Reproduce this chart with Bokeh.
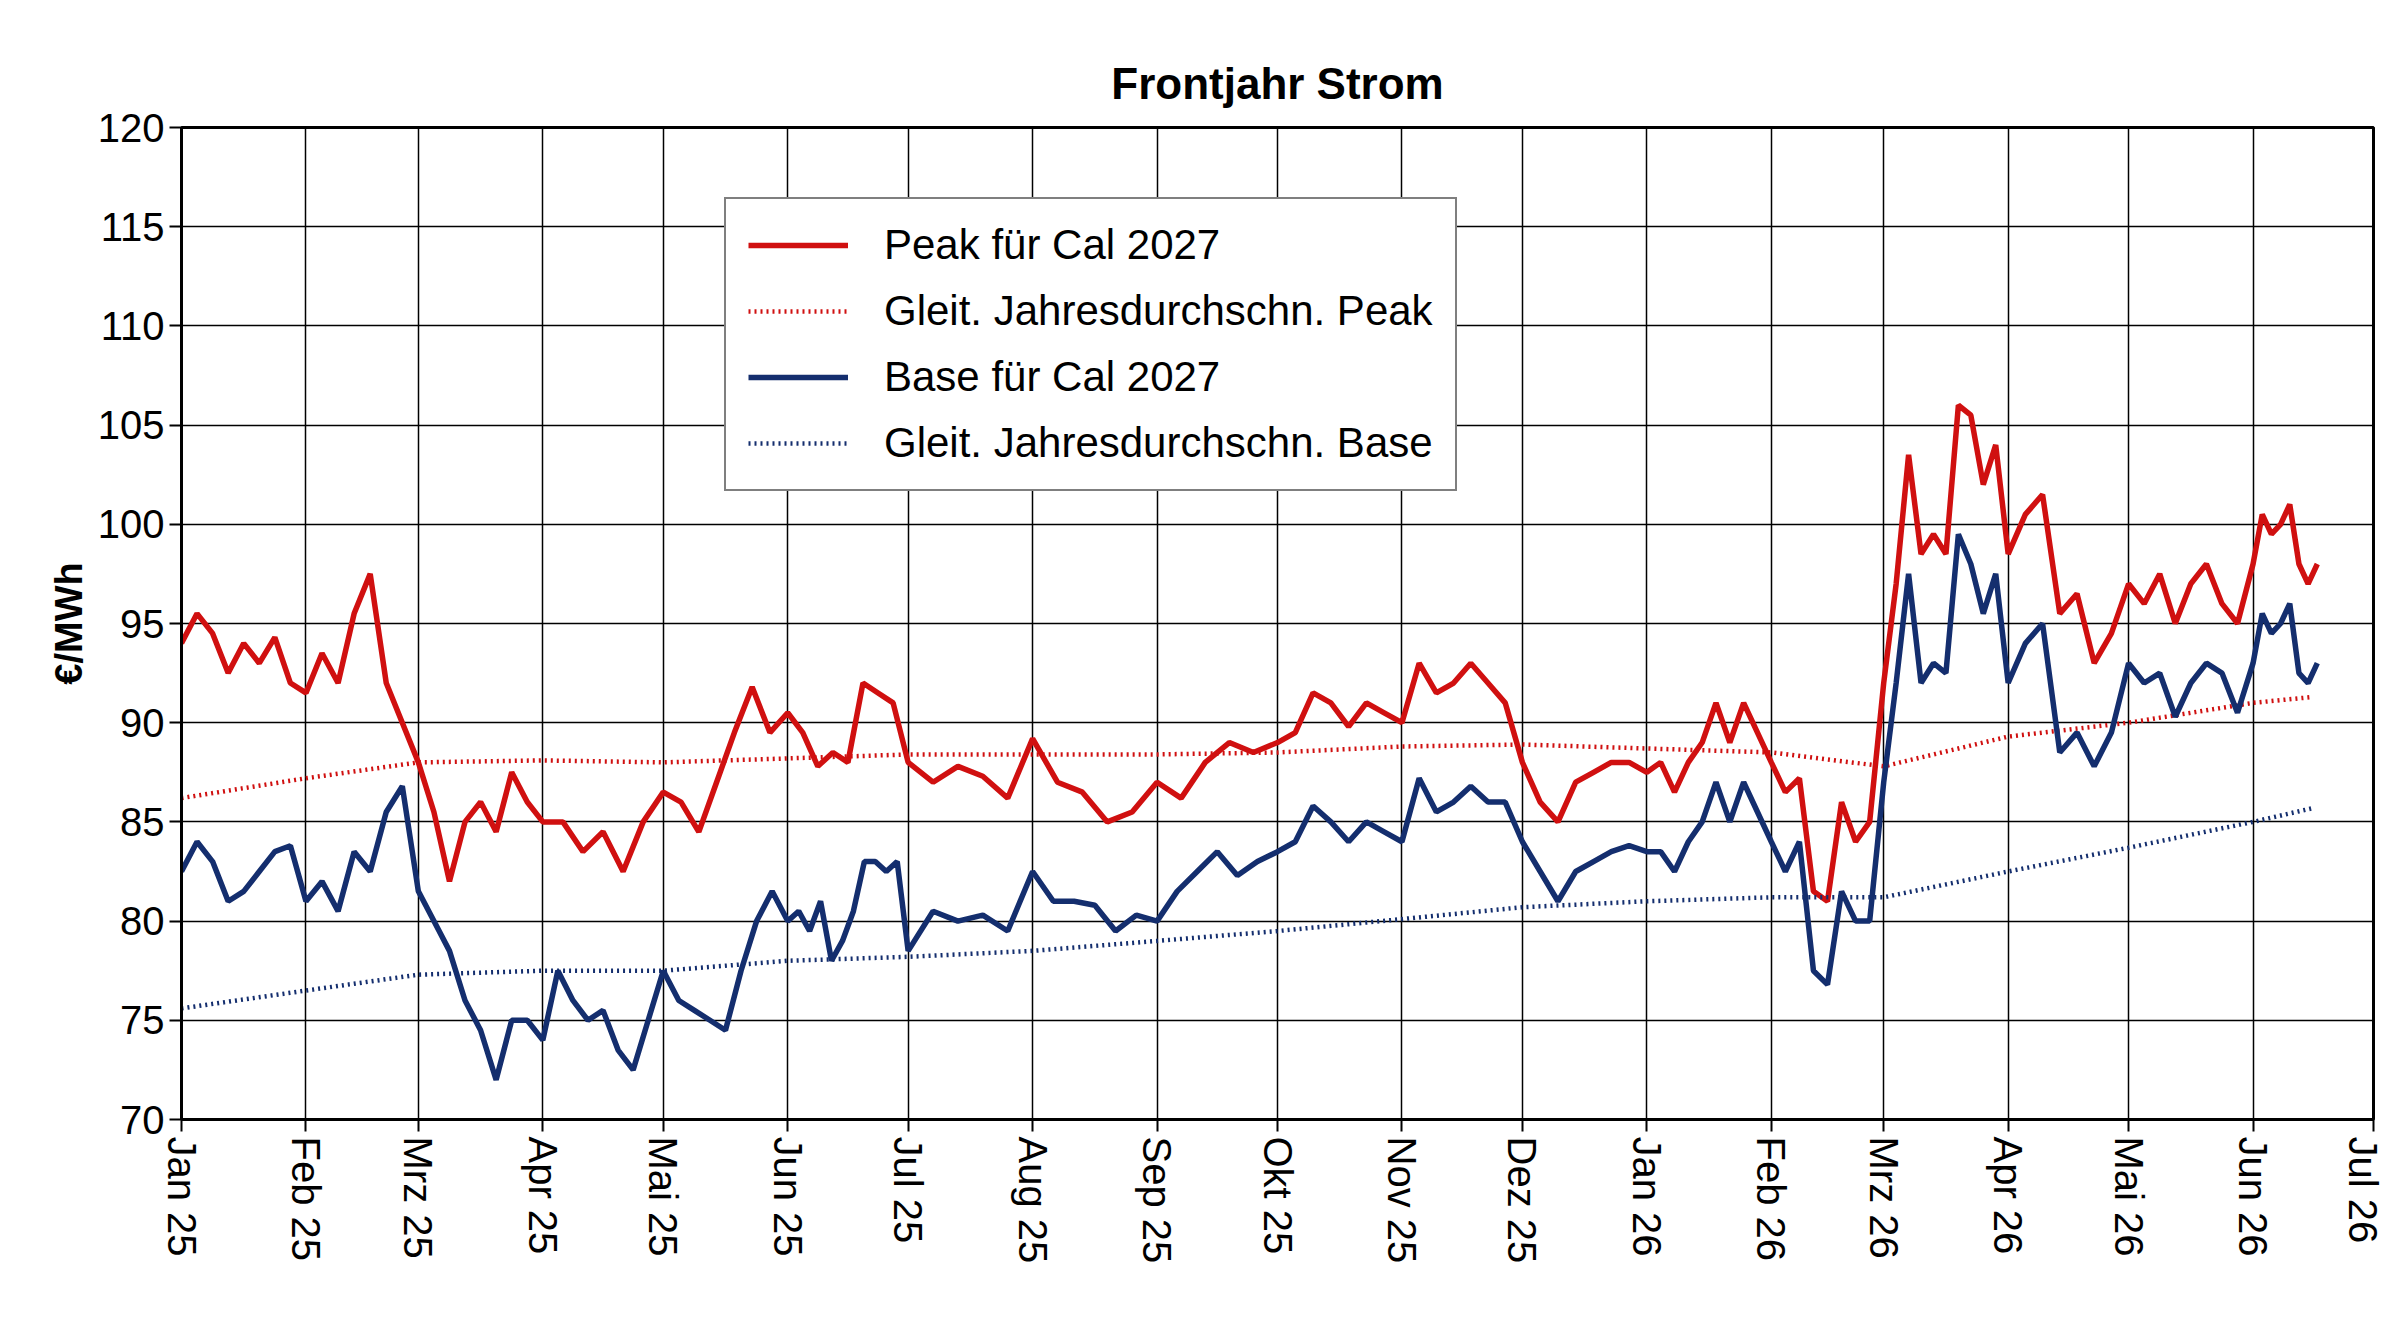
import pandas as pd
from bokeh.plotting import figure
from bokeh.models import FixedTicker, Legend, LegendItem, Range1d
from bokeh.embed import file_html
from bokeh.resources import INLINE

months = ["2025-01","2025-02","2025-03","2025-04","2025-05","2025-06","2025-07","2025-08","2025-09",
          "2025-10","2025-11","2025-12","2026-01","2026-02","2026-03","2026-04","2026-05","2026-06"]
tick_labels = ["Jan 25","Feb 25","Mrz 25","Apr 25","Mai 25","Jun 25","Jul 25","Aug 25","Sep 25","Okt 25",
               "Nov 25","Dez 25","Jan 26","Feb 26","Mrz 26","Apr 26","Mai 26","Jun 26","Jul 26"]

peak = [
 [94,95.5,94.5,92.5,94,93,94.3,92],
 [91.5,93.5,92,95.5,97.5,92,90],
 [88,85.5,82,85,86,84.5,87.5,86],
 [85,85,83.5,84.5,82.5,85],
 [86.5,86,84.5,87,89.5,91.8,89.5],
 [90.5,89.5,87.8,88.5,88,92,91.5,91],
 [88,87,87.8,87.3,86.2],
 [89.2,87,86.5,85,85.5],
 [87,86.2,88,89,88.5],
 [89,89.5,91.5,91,89.8,91,90.5],
 [90,93,91.5,92,93,92,91],
 [88,86,85,87,87.5,88,88],
 [87.5,88,86.5,88,89,91,89,91,89.5],
 [88,86.5,87.2,81.5,81,86,84,85],
 [92,97,103.5,98.5,99.5,98.5,106,105.5,102,104],
 [98.5,100.5,101.5,95.5,96.5,93,94.5],
 [97,96,97.5,95,97,98,96,95],
 [98,100.5,99.5,100,101,98,97,98],
]
base = [
 [82.5,84,83,81,81.5,82.5,83.5,83.8],
 [81,82,80.5,83.5,82.5,85.5,86.8],
 [81.5,80,78.5,76,74.5,72,75,75],
 [74,77.5,76,75,75.5,73.5,72.5,75],
 [77.5,76,75.5,75,74.5,77.5,80,81.5],
 [80,80.5,79.5,81,78,79,80.5,83,83,82.5,83],
 [78.5,80.5,80,80.3,79.5],
 [82.5,81,81,80.8,79.5,80.3],
 [80,81.5,82.5,83.5,82.3,83],
 [83.5,84,85.8,85,84,85,84.5],
 [84,87.2,85.5,86,86.8,86,86],
 [84,82.5,81,82.5,83,83.5,83.8],
 [83.5,83.5,82.5,84,85,87,85,87,85.5],
 [84,82.5,84,77.5,76.8,81.5,80,80],
 [87,92,97.5,92,93,92.5,99.5,98,95.5,97.5],
 [92,94,95,88.5,89.5,87.8,89.5],
 [93,92,92.5,90.3,92,93,92.5,90.5],
 [93,95.5,94.5,95,96,92.5,92,93],
]
peak_avg = [86.2,87.2,88.0,88.1,88.0,88.2,88.4,88.4,88.4,88.5,88.8,88.9,88.7,88.5,87.8,89.3,90.0,91.0,91.3]
base_avg = [75.6,76.5,77.3,77.5,77.5,78.0,78.2,78.5,79.0,79.5,80.1,80.7,81.0,81.2,81.2,82.5,83.7,85.0,85.7]

def spread(month_lists, last_days=16):
    xs, ys = [], []
    for i, (m, vals) in enumerate(zip(months, month_lists)):
        start = pd.Timestamp(m + "-01")
        last = i == len(months) - 1
        ndays = last_days if last else start.days_in_month
        div = (len(vals) - 1) if last else len(vals)
        for j, v in enumerate(vals):
            xs.append(start + pd.Timedelta(days=ndays * j / max(div, 1)))
            ys.append(v)
    return xs, ys

px, py = spread(peak)
bx, by = spread(base)
avg_x = [pd.Timestamp(m + "-01") for m in months] + [pd.Timestamp("2026-06-16")]

tick_dates = [pd.Timestamp(m + "-01") for m in months] + [pd.Timestamp("2026-07-01")]
tick_ms = [t.value / 1e6 for t in tick_dates]

p = figure(width=2384, height=1300, x_axis_type="datetime", output_backend="svg", toolbar_location=None,
           title="Frontjahr Strom", min_border_left=181, min_border_right=11,
           min_border_top=127, min_border_bottom=181)
p.x_range = Range1d(tick_ms[0], tick_ms[-1])
p.y_range = Range1d(70, 120)
p.title.align = "center"
p.title.text_font = "Liberation Sans"
p.title.text_font_size = "44px"
p.title.text_font_style = "bold"
p.title.text_color = "black"
p.title.offset = 0
p.title.standoff = 40

red = "#d01010"
blue = "#142e6e"
r1 = p.line(px, py, line_color=red, line_width=5.5)
r2 = p.line(avg_x, peak_avg, line_color=red, line_width=4.5, line_dash="2 4")
r3 = p.line(bx, by, line_color=blue, line_width=5.5)
r4 = p.line(avg_x, base_avg, line_color=blue, line_width=4.5, line_dash="2 4")

p.xaxis.ticker = FixedTicker(ticks=tick_ms)
p.xaxis.major_label_overrides = {t: l for t, l in zip(tick_ms, tick_labels)}
p.xaxis.major_label_orientation = "vertical"
p.yaxis.ticker = FixedTicker(ticks=list(range(70, 121, 5)))
p.yaxis.axis_label = "€/MWh"
p.yaxis.axis_label_text_font_style = "bold"
for ax in (p.xaxis, p.yaxis):
    ax.major_label_text_font = "Liberation Sans"
    ax.major_label_text_font_size = "40px"
    ax.major_label_text_color = "black"
    ax.axis_label_text_font = "Liberation Sans"
    ax.axis_label_text_font_size = "38px"
    ax.axis_label_text_color = "black"
    ax.axis_line_color = "black"
    ax.axis_line_width = 3
    ax.major_tick_out = 12
    ax.major_tick_in = 0
    ax.major_tick_line_color = "black"
    ax.major_tick_line_width = 2
    ax.minor_tick_line_color = None
p.grid.grid_line_color = "black"
p.grid.grid_line_width = 1.5
p.outline_line_color = "black"
p.outline_line_width = 3

legend = Legend(items=[
    LegendItem(label="Peak für Cal 2027", renderers=[r1]),
    LegendItem(label="Gleit. Jahresdurchschn. Peak", renderers=[r2]),
    LegendItem(label="Base für Cal 2027", renderers=[r3]),
    LegendItem(label="Gleit. Jahresdurchschn. Base", renderers=[r4]),
], location=(543, 628))
legend.label_text_font = "Liberation Sans"
legend.label_text_font_size = "42px"
legend.label_text_color = "black"
legend.glyph_width = 100
legend.label_standoff = 36
legend.padding = 22
legend.spacing = 18
legend.border_line_color = "black"
legend.border_line_width = 2
legend.background_fill_alpha = 1
p.add_layout(legend, "center")

open("out.html", "w").write(file_html(p, INLINE))
